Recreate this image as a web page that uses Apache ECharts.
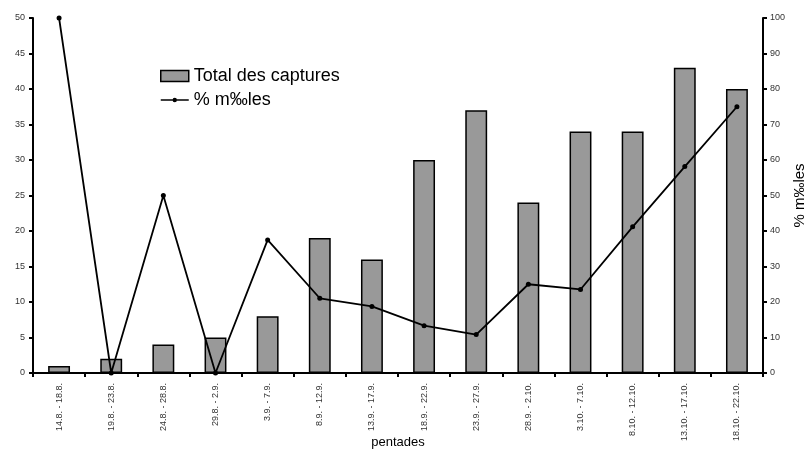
<!DOCTYPE html>
<html><head><meta charset="utf-8">
<script src="https://cdn.jsdelivr.net/npm/echarts@6/dist/echarts.min.js"></script>
<style>html,body{margin:0;padding:0;background:#fff}#c{width:811px;height:451px}</style>
</head><body><div id="c"></div>
<script>
var categories = ['14.8. - 18.8.','19.8. - 23.8.','24.8. - 28.8.','29.8. - 2.9.','3.9. - 7.9.','8.9. - 12.9.','13.9. - 17.9.','18.9. - 22.9.','23.9. - 27.9.','28.9. - 2.10.','3.10. - 7.10.','8.10. - 12.10.','13.10. - 17.10.','18.10. - 22.10.'];
var totalCaptures = [1, 2, 4, 5, 8, 19, 16, 30, 37, 24, 34, 34, 43, 40];
var pctMales = [100, 0, 50, 0, 37.5, 21.05, 18.75, 13.33, 10.81, 25, 23.53, 41.18, 58.14, 75];

var font = 'Liberation Sans, Arial, sans-serif';
var chart = echarts.init(document.getElementById('c'));
var axisLabel = {fontFamily: font, fontSize: 9, color: '#333'};
var lineIcon = 'path://M0,0L0.01,0L0,0.01Z M0,11L0.01,11L0,10.99Z M0,4.7L28,4.7L28,6.3L0,6.3Z M16.2,5.5A2.2,2.2,0,1,1,11.8,5.5A2.2,2.2,0,1,1,16.2,5.5Z';
chart.setOption({
  animation: false,
  grid: {left: 33, right: 48, top: 18, bottom: 78, outerBoundsMode: 'none', containLabel: false},
  legend: {
    left: 155, top: 62, orient: 'vertical', itemGap: 6, itemWidth: 28, itemHeight: 11,
    textStyle: {fontFamily: font, fontSize: 18, color: '#000'},
    data: [
      {name: 'Total des captures', icon: 'rect', itemStyle: {color: '#999', borderColor: '#000', borderWidth: 1.5}},
      {name: '% m‰les', icon: lineIcon, itemStyle: {color: '#000', borderWidth: 0}}
    ]
  },
  xAxis: {
    type: 'category', data: categories,
    name: 'pentades', nameLocation: 'middle', nameGap: 63, nameMoveOverlap: false,
    nameTextStyle: {fontFamily: font, fontSize: 13, color: '#000'},
    axisLine: {lineStyle: {color: '#000', width: 2}},
    axisTick: {show: true, length: 4, lineStyle: {color: '#000', width: 2}},
    axisLabel: Object.assign({rotate: 90, margin: 10, interval: 0}, axisLabel)
  },
  yAxis: [
    {type: 'value', min: 0, max: 50, interval: 5,
     splitLine: {show: false},
     axisLine: {show: true, lineStyle: {color: '#000', width: 2}},
     axisTick: {show: true, length: 4, lineStyle: {color: '#000', width: 2}},
     axisLabel: Object.assign({margin: 8}, axisLabel)},
    {type: 'value', min: 0, max: 100, interval: 10,
     name: '% m‰les', nameLocation: 'middle', nameGap: 29, nameRotate: 90, nameMoveOverlap: false,
     nameTextStyle: {fontFamily: font, fontSize: 15, color: '#000'},
     splitLine: {show: false},
     axisLine: {show: true, lineStyle: {color: '#000', width: 2}},
     axisTick: {show: true, length: 4, lineStyle: {color: '#000', width: 2}},
     axisLabel: Object.assign({margin: 7}, axisLabel)}
  ],
  series: [
    {name: 'Total des captures', type: 'bar', data: totalCaptures, barWidth: '42%', yAxisIndex: 0,
     itemStyle: {color: '#999', borderColor: '#000', borderWidth: 1.5}},
    {name: '% m‰les', type: 'line', data: pctMales, yAxisIndex: 1,
     symbol: 'circle', symbolSize: 5,
     lineStyle: {color: '#000', width: 1.8}, itemStyle: {color: '#000'}}
  ]
});
</script></body></html>
